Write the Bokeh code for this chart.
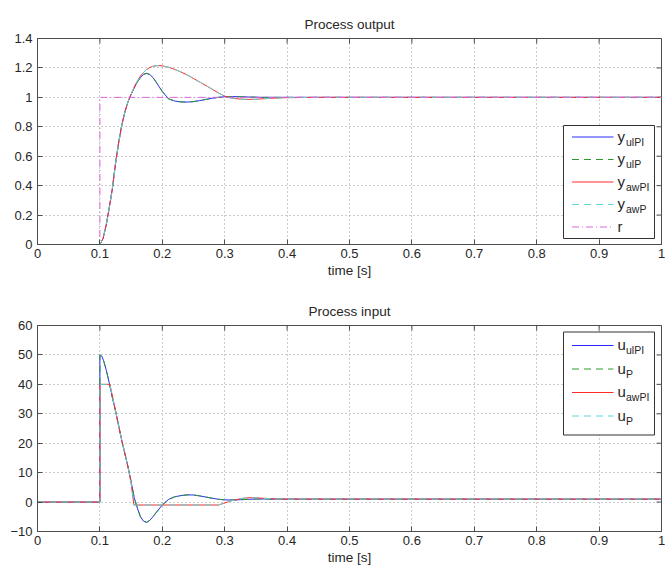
from bokeh.plotting import figure
from bokeh.models import Range1d, FixedTicker, CustomJSTickFormatter
from bokeh.layouts import column
from bokeh.embed import file_html
from bokeh.resources import INLINE
from bokeh.core.properties import value

# ---------------- data ----------------
x_ticks = [0, 0.1, 0.2, 0.3, 0.4, 0.5, 0.6, 0.7, 0.8, 0.9, 1]
y_ticks_out = [0, 0.2, 0.4, 0.6, 0.8, 1, 1.2, 1.4]
y_ticks_in = [-10, 0, 10, 20, 30, 40, 50, 60]

t_y = [0, 0.1, 0.105, 0.11, 0.115, 0.12, 0.125, 0.13, 0.135, 0.14, 0.145, 0.15,
       0.155, 0.16, 0.165, 0.17, 0.175, 0.18, 0.185, 0.19, 0.195, 0.2, 0.21, 0.22,
       0.23, 0.24, 0.25, 0.26, 0.27, 0.28, 0.29, 0.3, 0.31, 0.32, 0.33, 0.34, 0.35,
       0.36, 0.38, 0.4, 0.45, 0.5, 0.6, 0.8, 1.0]
y_ulPI = [0, 0, 0.04, 0.13, 0.25, 0.38, 0.55, 0.69, 0.81, 0.9, 0.97, 1.02,
          1.065, 1.105, 1.135, 1.157, 1.163, 1.155, 1.135, 1.105, 1.072, 1.04, 0.99, 0.975,
          0.969, 0.968, 0.971, 0.978, 0.986, 0.994, 1.0, 1.004, 1.005, 1.005, 1.004, 1.002, 1.001,
          1.0, 1.0, 1.0, 1.0, 1.0, 1.0, 1.0, 1.0]
y_ulP = [0, 0, 0.04, 0.13, 0.25, 0.38, 0.55, 0.69, 0.81, 0.9, 0.97, 1.02,
         1.065, 1.105, 1.135, 1.157, 1.163, 1.155, 1.135, 1.105, 1.072, 1.04, 0.99, 0.975,
         0.969, 0.968, 0.971, 0.978, 0.986, 0.994, 1.0, 1.004, 1.005, 1.005, 1.004, 1.002, 1.001,
         1.0, 1.0, 1.0, 1.0, 1.0, 1.0, 1.0, 1.0]
y_awPI = [0, 0, 0.04, 0.13, 0.25, 0.38, 0.55, 0.69, 0.81, 0.9, 0.97, 1.02,
          1.07, 1.11, 1.145, 1.17, 1.19, 1.203, 1.211, 1.215, 1.216, 1.214, 1.205, 1.19,
          1.172, 1.152, 1.128, 1.104, 1.08, 1.055, 1.03, 1.008, 0.996, 0.99, 0.987, 0.986, 0.987,
          0.99, 0.995, 0.998, 1.0, 1.0, 1.0, 1.0, 1.0]
y_awP = [0, 0, 0.04, 0.13, 0.25, 0.38, 0.55, 0.69, 0.81, 0.9, 0.97, 1.02,
         1.07, 1.11, 1.145, 1.17, 1.19, 1.203, 1.211, 1.215, 1.216, 1.214, 1.205, 1.19,
         1.172, 1.152, 1.128, 1.104, 1.08, 1.055, 1.03, 1.008, 0.996, 0.99, 0.987, 0.986, 0.987,
         0.99, 0.995, 0.998, 1.0, 1.0, 1.0, 1.0, 1.0]
t_r = [0, 0.1, 0.1, 1.0]
r = [0, 0, 1, 1]

t_u = [0, 0.1, 0.1, 0.103, 0.106, 0.11, 0.115, 0.12, 0.125, 0.13, 0.135, 0.14, 0.145,
       0.15, 0.155, 0.16, 0.165, 0.17, 0.175, 0.18, 0.185, 0.19, 0.2, 0.21, 0.22, 0.23,
       0.24, 0.25, 0.26, 0.27, 0.28, 0.29, 0.3, 0.31, 0.32, 0.33, 0.34, 0.35, 0.36, 0.38,
       0.4, 0.45, 0.5, 1.0]
u_ulPI = [0, 0, 50, 49.6, 48.0, 45.0, 40.5, 35.5, 31.0, 26.0, 21.0, 16.5, 12.0,
          7.0, 1.5, -2.0, -5.0, -6.5, -6.9, -6.2, -5.0, -3.6, -1.0, 0.9, 1.8, 2.2,
          2.45, 2.4, 2.1, 1.7, 1.3, 0.95, 0.75, 0.7, 0.75, 0.85, 0.95, 1.05, 1.05, 1.0,
          1.0, 1.0, 1.0, 1.0]
u_P1 = [0, 0, 50, 49.6, 48.0, 45.0, 40.5, 35.5, 31.0, 26.0, 21.0, 16.5, 12.0,
        7.0, 1.5, -2.0, -5.0, -6.5, -6.9, -6.2, -5.0, -3.6, -1.0, 0.9, 1.8, 2.2,
        2.45, 2.4, 2.1, 1.7, 1.3, 0.95, 0.75, 0.7, 0.75, 0.85, 0.95, 1.05, 1.05, 1.0,
        1.0, 1.0, 1.0, 1.0]
t_aw = [0, 0.1, 0.1, 0.116, 0.12, 0.125, 0.13, 0.135, 0.14, 0.145, 0.15, 0.1545,
        0.29, 0.3, 0.31, 0.32, 0.33, 0.34, 0.35, 0.36, 0.38, 0.4, 0.45, 0.5, 1.0]
u_awPI = [0, 0, 40, 40, 36, 31, 26, 21, 16.5, 12, 6.5, -1,
          -1, -0.3, 0.4, 0.9, 1.3, 1.5, 1.45, 1.3, 1.1, 1.0, 1.0, 1.0, 1.0]
u_P2 = [0, 0, 40, 40, 36, 31, 26, 21, 16.5, 12, 6.5, -1,
        -1, -0.3, 0.4, 0.9, 1.3, 1.5, 1.45, 1.3, 1.1, 1.0, 1.0, 1.0, 1.0]

# ---------------- styling ----------------
FONT = "Liberation Sans"
FW, FH = 624, 206
AX = "#4d4d4d"
TXT = "#262626"
TICK = 5

S_BLUE = dict(line_color="#2a2aff", line_width=1)
S_GREEN = dict(line_color="#2e9a2e", line_width=1, line_dash="7 5")
S_RED = dict(line_color="#ff2a2a", line_width=1)
S_CYAN = dict(line_color="#5ad8d8", line_width=1, line_dash="7 5")
S_MAG = dict(line_color="#dd66dd", line_width=1, line_dash="7 3 1 3")

FMT = CustomJSTickFormatter(code="""
const v = Math.round(tick*1000)/1000;
return v < 0 ? "\u2212" + String(-v) : String(v);
""")


def make_fig(title, yr, yticks, top_border, bottom_border):
    p = figure(frame_width=FW, frame_height=FH, x_range=Range1d(0, 1),
               y_range=Range1d(*yr), output_backend="svg", toolbar_location=None,
               title=title, min_border_left=37, min_border_right=4,
               min_border_top=top_border, min_border_bottom=bottom_border)
    p.title.align = "center"
    p.title.text_font = FONT
    p.title.text_font_size = "13.5px"
    p.title.text_font_style = "normal"
    p.title.text_color = TXT
    p.title.standoff = 14
    xt = FixedTicker(ticks=x_ticks)
    yt = FixedTicker(ticks=yticks)
    p.xaxis.ticker = xt
    p.yaxis.ticker = yt
    p.xgrid.ticker = xt
    p.ygrid.ticker = yt
    p.xaxis.formatter = FMT
    p.yaxis.formatter = FMT
    p.xaxis.axis_label = "time [s]"
    p.xaxis.axis_label_text_font = FONT
    p.xaxis.axis_label_text_font_size = "13.5px"
    p.xaxis.axis_label_text_font_style = "normal"
    p.xaxis.axis_label_text_color = TXT
    p.xaxis.axis_label_standoff = 2
    for ax in (p.xaxis[0], p.yaxis[0]):
        ax.major_label_text_font = FONT
        ax.major_label_text_font_size = "13px"
        ax.major_label_text_color = TXT
        ax.axis_line_color = AX
        ax.major_tick_line_color = AX
        ax.major_tick_in = TICK
        ax.major_tick_out = 0
        ax.minor_tick_line_color = None
    p.xaxis.major_label_standoff = 4
    p.yaxis.major_label_standoff = 5
    for g in (p.xgrid[0], p.ygrid[0]):
        g.grid_line_color = "#9a9a9a"
        g.grid_line_dash = "1 3"
        g.grid_line_width = 1
    p.outline_line_color = AX
    p.outline_line_width = 1
    p.background_fill_color = "white"
    p.border_fill_color = "white"
    # inward ticks on the top and right edges (Matlab style box)
    ydy = TICK / FH * (yr[1] - yr[0])
    p.segment(x0=x_ticks, x1=x_ticks, y0=[yr[1]] * len(x_ticks),
              y1=[yr[1] - ydy] * len(x_ticks), line_color=AX, line_width=1)
    p.segment(x0=[1] * len(yticks), x1=[1 - TICK / FW] * len(yticks),
              y0=yticks, y1=yticks, line_color=AX, line_width=1)
    return p


def add_legend(p, yr, entries, box_t, box_h, row0, pitch):
    def X(px):
        return px / FW

    def Y(py):
        return yr[0] + py / FH * (yr[1] - yr[0])

    box_r = FW - 7
    box_l = box_r - 91
    box_b = box_t - box_h
    p.quad(left=[X(box_l)], right=[X(box_r)], bottom=[Y(box_b)], top=[Y(box_t)],
           fill_color="white", line_color="#333333", line_width=1)
    for i, (main, sub, style) in enumerate(entries):
        yc = box_t - row0 - pitch * i
        p.text(x=[X(box_l + 54)], y=[Y(yc + 1)], text=[main],
               text_font=value(FONT), text_font_size="15px",
               text_baseline="alphabetic", text_color=TXT)
        if sub:
            p.text(x=[X(box_l + 62.5)], y=[Y(yc - 4.5)], text=[sub],
                   text_font=value(FONT), text_font_size="10.5px",
                   text_baseline="alphabetic", text_color=TXT)
    for i, (main, sub, style) in enumerate(entries):
        yc = box_t - row0 - pitch * i
        p.segment(x0=[X(box_l + 8.5)], x1=[X(box_l + 50)], y0=[Y(yc)], y1=[Y(yc)], **style)


# ---------------- top: process output ----------------
yr1 = (0, 1.4)
p1 = make_fig("Process output", yr1, y_ticks_out, 38, 38)
p1.line(t_y, y_ulPI, **S_BLUE)
p1.line(t_y, y_ulP, **S_GREEN)
p1.line(t_y, y_awPI, **S_RED)
p1.line(t_y, y_awP, **S_CYAN)
p1.line(t_r, r, **S_MAG)
add_legend(p1, yr1, [("y", "ulPI", S_BLUE), ("y", "ulP", S_GREEN),
                     ("y", "awPI", S_RED), ("y", "awP", S_CYAN), ("r", "", S_MAG)],
           box_t=119, box_h=113, row0=11.5, pitch=22.5)

# ---------------- bottom: process input ----------------
yr2 = (-10, 60)
p2 = make_fig("Process input", yr2, y_ticks_in, 43, 35)
p2.line(t_u, u_ulPI, **S_BLUE)
p2.line(t_u, u_P1, **S_GREEN)
p2.line(t_aw, u_awPI, **S_RED)
p2.line(t_aw, u_P2, **S_CYAN)
add_legend(p2, yr2, [("u", "ulPI", S_BLUE), ("u", "P", S_GREEN),
                     ("u", "awPI", S_RED), ("u", "P", S_CYAN)],
           box_t=FH - 6.5, box_h=103, row0=13.5, pitch=23.5)

layout = column(p1, p2)
with open("out.html", "w", encoding="utf-8") as f:
    f.write(file_html(layout, INLINE))
